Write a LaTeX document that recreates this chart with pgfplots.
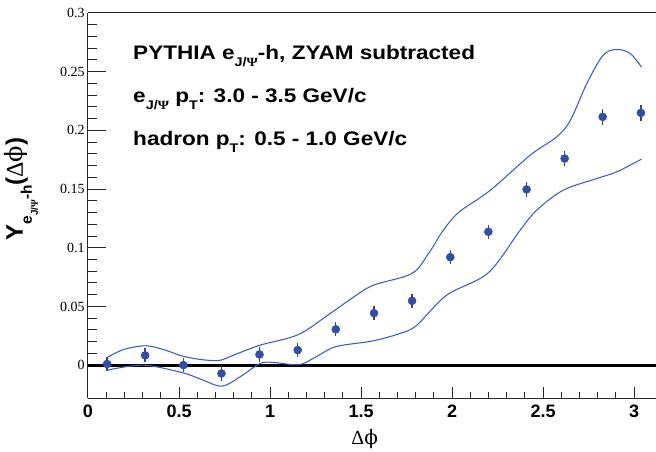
\documentclass[border=0pt]{standalone}
\usepackage{pgfplots}
\pgfplotsset{compat=1.18}
\usepackage{fontspec}
\setmainfont{Liberation Sans}
\newfontfamily\serifont{Liberation Serif}
\newfontfamily\dvserif{DejaVu Serif}
\definecolor{mk}{RGB}{48,78,172}
\definecolor{band}{RGB}{62,92,196}
\definecolor{ebar}{RGB}{70,70,70}
\newcommand{\sub}[1]{\raisebox{-0.38em}{\fontsize{0.64em}{0.7em}\selectfont #1}}
\newcommand{\dphi}{{\mdseries\serifont Δ}{\mdseries\dvserif ϕ}}

\pgfplotsset{
  common/.style={
    scale only axis,
    width=426pt, height=288.75pt,
    xmin=0, xmax=3.12,
    ymin=-0.028, ymax=0.3,
    axis line style={line width=0.75pt, black!85},
    tick style={line width=0.75pt, black!85},
    tick align=inside,
    xtick={0,0.5,...,3}, minor x tick num=4,
    ytick={0,0.05,...,0.3}, minor y tick num=4,
    xtick pos=bottom, ytick pos=left,
  },
}
\tikzset{txt/.style={anchor=base west, font=\bfseries\fontsize{14.7}{16}\selectfont, inner sep=0pt}}

\begin{document}
\begin{tikzpicture}
% y ticks (long)
\begin{axis}[common,
    axis y line*=left,
    major tick length=13.5pt, minor tick length=6.75pt,
    xticklabels={}, xtick=\empty, minor x tick num=0,
    yticklabel style={font=\serifont\fontsize{10.5}{12}\selectfont, xshift=1pt},
    /pgf/number format/assume math mode=true,
    /pgf/number format/fixed,
    /pgf/number format/precision=2,
]
\coordinate (bl) at (rel axis cs:0,0);
\coordinate (tr) at (rel axis cs:1,1);
\end{axis}

% x ticks (short), data
\begin{axis}[common,
    axis y line*=left,
    major tick length=8.25pt, minor tick length=4.5pt,
    ytick=\empty, minor y tick num=0,
    xticklabel style={font=\bfseries\fontsize{13.5}{15}\selectfont, yshift=-2pt},
    /pgf/number format/assume math mode=true,
    clip=false,
]
\addplot[black, line width=2.3pt] coordinates {(0,0)(3.12,0)};

\addplot[band, line width=0.8pt, smooth, tension=0.55] coordinates {
(0.105,0.0066)(0.2,0.0135)(0.32,0.0165)(0.42,0.013)(0.52,0.0077)(0.62,0.0048)
(0.72,0.0040)(0.80,0.0085)(0.945,0.017)(1.155,0.026)(1.33,0.0440)(1.45,0.057)
(1.566,0.068)(1.778,0.078)(1.87,0.095)(1.952,0.115)(2.04,0.1306)(2.21,0.149)
(2.43,0.179)(2.575,0.1945)(2.65,0.2087)(2.74,0.2399)(2.83,0.2641)(2.905,0.2689)
(2.978,0.2655)(3.04,0.254)};

\addplot[band, line width=0.8pt, smooth, tension=0.55] coordinates {
(0.105,-0.0043)(0.305,0.0)(0.52,-0.0065)(0.62,-0.012)(0.735,-0.0179)(0.835,-0.010)
(0.945,0.0014)(1.018,0.0023)(1.155,0.0003)(1.237,0.0057)(1.33,0.0139)(1.40,0.017)
(1.566,0.0207)(1.714,0.027)(1.806,0.034)(1.97,0.0596)(2.198,0.0786)(2.374,0.115)
(2.465,0.132)(2.61,0.149)(2.795,0.159)(2.905,0.1647)(3.04,0.1755)};

\addplot[only marks, mark=*, mark size=3pt, mark options={mk, fill=mk},
    error bars/.cd, y dir=both, y explicit,
    error mark=none, error bar style={ebar, line width=1pt}]
coordinates {
(0.105,0.0010) +- (0,0.006)
(0.314,0.0083) +- (0,0.006)
(0.524,0.0000) +- (0,0.006)
(0.733,-0.0071) +- (0,0.006)
(0.942,0.0091) +- (0,0.006)
(1.152,0.0128) +- (0,0.006)
(1.361,0.0305) +- (0,0.006)
(1.571,0.0443) +- (0,0.006)
(1.780,0.0548) +- (0,0.006)
(1.990,0.0920) +- (0,0.006)
(2.199,0.1136) +- (0,0.006)
(2.409,0.1497) +- (0,0.0065)
(2.618,0.1760) +- (0,0.0065)
(2.827,0.2115) +- (0,0.007)
(3.037,0.2149) +- (0,0.007)};

\node[txt] at (axis cs:0.247,0.2606)
  {\scalebox{1.15}[1]{PYTHIA e\sub{J/{\serifont Ψ}}-h, ZYAM subtracted}};
\node[txt] at (axis cs:0.247,0.224)
  {\scalebox{1.15}[1]{e\sub{J/{\serifont Ψ}} p\sub{T}: 3.0 - 3.5 GeV/c}};
\node[txt] at (axis cs:0.247,0.1874)
  {\scalebox{1.15}[1]{hadron p\sub{T}: 0.5 - 1.0 GeV/c}};

\node[anchor=base, font=\fontsize{15}{17}\selectfont, inner sep=0pt]
  at ([yshift=-35pt]axis cs:1.52,-0.028) {\dphi};
\node[rotate=90, anchor=center, font=\bfseries\fontsize{18}{20}\selectfont, inner sep=0pt]
  at ([xshift=-50pt]axis cs:0,0.15) {Y\sub{e\sub{J/{\serifont Ψ}}-h}(\dphi)};
\end{axis}

\pgfresetboundingbox
\path[use as bounding box] ([xshift=-66pt,yshift=-39.75pt]bl) rectangle ([yshift=9.75pt]tr);
\end{tikzpicture}
\end{document}
